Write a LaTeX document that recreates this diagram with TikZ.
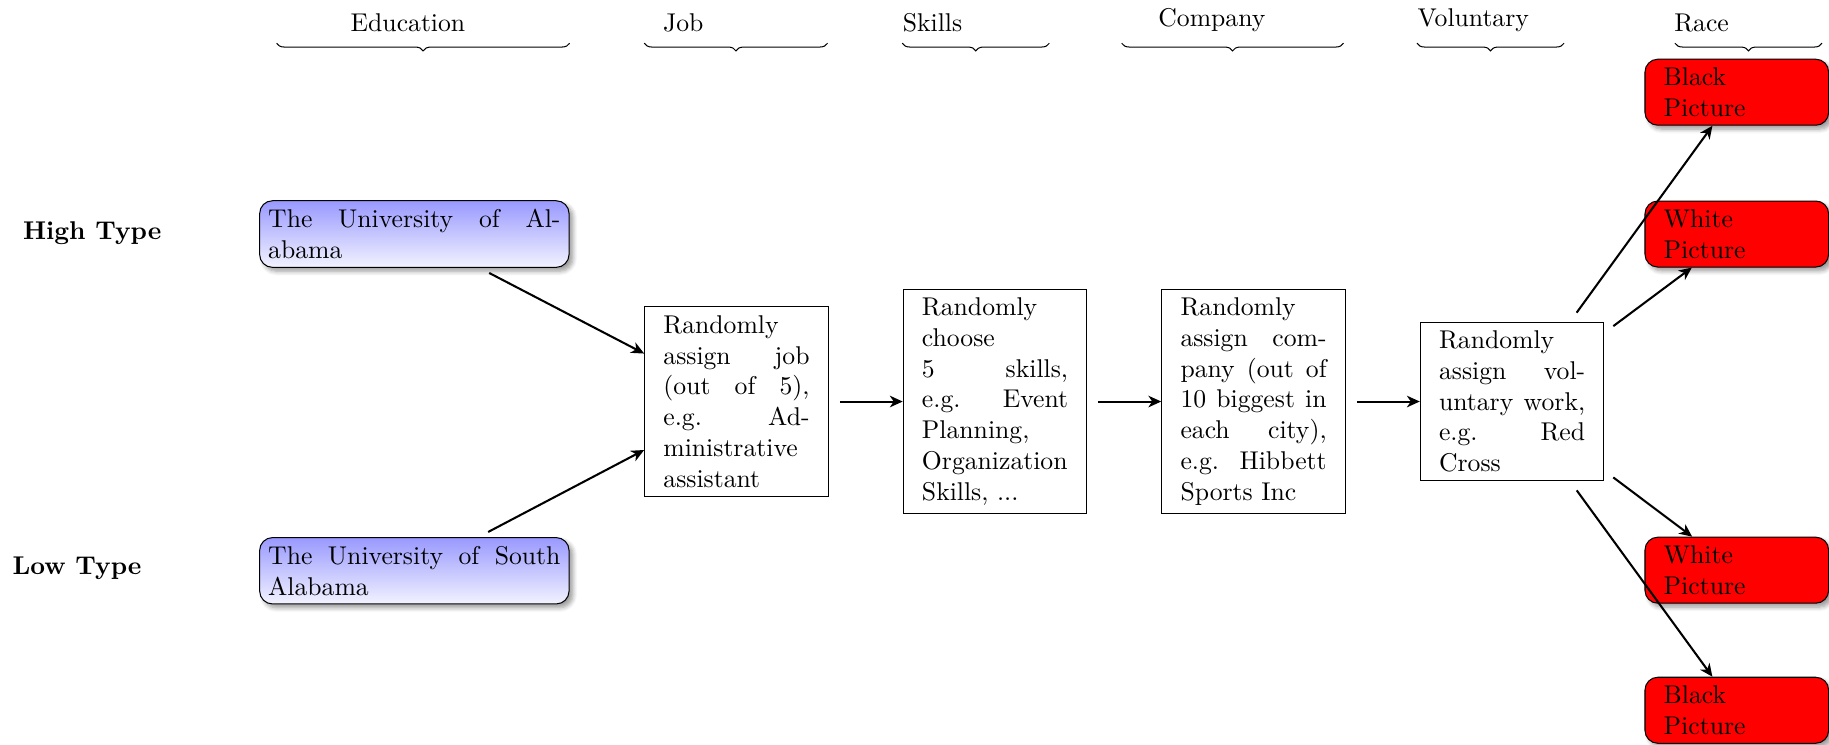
\documentclass[tikz,border=0pt]{standalone}
\usetikzlibrary{arrows.meta,shadows.blur,decorations.pathreplacing}
\begin{document}
\begin{tikzpicture}[x=0.4545pt,y=-0.4545pt,
  box/.style={draw, text width=2cm, align=justify, inner xsep=7.3pt, inner ysep=3.33pt},
  edu/.style={draw, rounded corners=5pt, text width=4cm, align=justify, top color=blue!40, bottom color=blue!5, blur shadow={shadow blur steps=6, shadow xshift=1.5pt, shadow yshift=-1.5pt}},
  race/.style={box, align=left, rounded corners=5pt, fill=red, blur shadow={shadow blur steps=6, shadow xshift=1.5pt, shadow yshift=-1.5pt}},
  lbl/.style={anchor=south west},
  typ/.style={font=\bfseries},
  arr/.style={thick, -{Stealth[length=5pt,width=4.5pt,inset=1.5pt]}, shorten <=4.3pt},
  br/.style={decorate, decoration={brace, mirror, amplitude=3pt}}
]
\useasboundingbox (0,0) rectangle (1567,638);

% header labels
\node[lbl] (hEdu) at (292.7,35) {Education};
\node[lbl] (hJob) at (560.3,35) {Job};
\node[lbl] (hSki) at (765.7,35) {Skills};
\node[lbl] (hCom) at (984.7,35) {Company};
\node[lbl] (hVol) at (1206.7,35) {Voluntary};
\node[lbl] (hRac) at (1426.7,35) {Race};

% braces
\coordinate (b1a) at (237,37);  \coordinate (b1b) at (488,37);
\coordinate (b2a) at (552,37);  \coordinate (b2b) at (709,37);
\coordinate (b3a) at (773,37);  \coordinate (b3b) at (899,37);
\coordinate (b4a) at (961,37);  \coordinate (b4b) at (1151,37);
\coordinate (b5a) at (1214,37); \coordinate (b5b) at (1340,37);
\coordinate (b6a) at (1435,37); \coordinate (b6b) at (1561,37);
\draw[br] (b1a) -- (b1b);
\draw[br] (b2a) -- (b2b);
\draw[br] (b3a) -- (b3b);
\draw[br] (b4a) -- (b4b);
\draw[br] (b5a) -- (b5b);
\draw[br] (b6a) -- (b6b);

% type labels
\node[typ] (hi) at (79,200) {High Type};
\node[typ] (lo) at (66,487) {Low Type};

% nodes
\node[edu] (eduH) at (355,200.5) {The University of Alabama};
\node[edu] (eduL) at (355,489) {The University of South Alabama};
\node[box] (job) at (631,344) {Randomly assign job (out of 5), e.g. Administrative assistant};
\node[box] (skills) at (852.5,344) {Randomly choose 5 skills, e.g. Event Planning, Organization Skills, ...};
\node[box] (comp) at (1074,344) {Randomly assign company (out of 10 biggest in each city), e.g. Hibbett Sports Inc};
\node[box] (vol) at (1295.5,344) {Randomly assign voluntary work, e.g. Red Cross};
\node[race] (bH) at (1488,79) {Black\\Picture};
\node[race] (wH) at (1488,200.5) {White\\Picture};
\node[race] (wL) at (1488,488.5) {White\\Picture};
\node[race] (bL) at (1488,608.5) {Black\\Picture};

% connectors
\draw[arr] (eduH) -- (job);
\draw[arr] (eduL) -- (job);
\draw[arr] (job) -- (skills);
\draw[arr] (skills) -- (comp);
\draw[arr] (comp) -- (vol);
\draw[arr] (vol) -- (bH);
\draw[arr] (vol) -- (wH);
\draw[arr] (vol) -- (wL);
\draw[arr] (vol) -- (bL);
\end{tikzpicture}
\end{document}
